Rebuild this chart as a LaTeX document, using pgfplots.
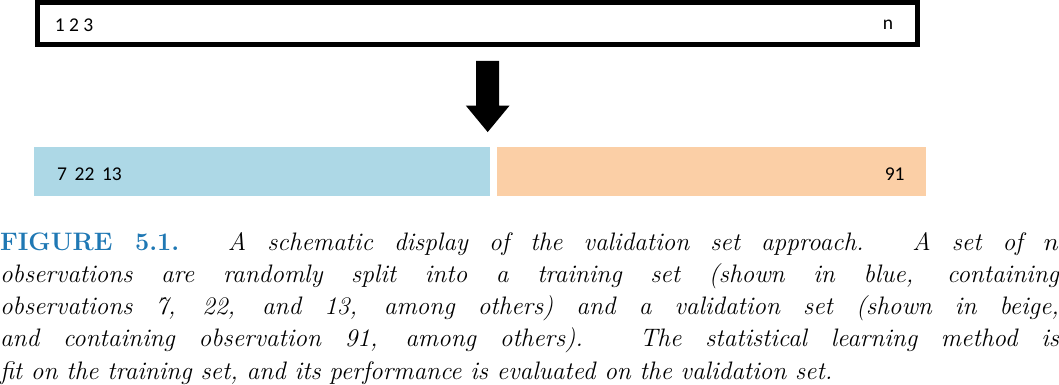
\documentclass[border=0pt]{standalone}
\usepackage{pgfplots}
\pgfplotsset{compat=1.18}
\usepackage{fontspec}
\newfontfamily\carlito{Carlito}
\definecolor{trainblue}{HTML}{ADD8E6}
\definecolor{valbeige}{HTML}{FBCFA6}
\definecolor{figblue}{HTML}{1F78B4}
\begin{document}
\begin{tikzpicture}
\begin{axis}[width=529.5pt,height=204.5pt,scale only axis,hide axis,
  xmin=0,xmax=1059,ymin=0,ymax=409,y dir=reverse,clip=false]
% training and validation sets
\addplot[fill=trainblue,draw=none] coordinates {(135,152)(532,152)(532,195)(135,195)} --cycle;
\addplot[fill=valbeige,draw=none] coordinates {(538,152)(912,152)(912,195)(538,195)} --cycle;
% full data set
\addplot[draw=black,line width=2pt] coordinates {(138,26)(904,26)(904,63)(138,63)} --cycle;
% arrow
\addplot[fill=black,draw=none] coordinates {(520,77)(540,77)(540,116)(549,116)(530,139)(511,116)(520,116)} --cycle;
\node[anchor=west,font=\carlito\fontsize{8.5}{10}\selectfont] at (axis cs:146,46) {1 2 3};
\node[anchor=east,font=\carlito\fontsize{8.5}{10}\selectfont] at (axis cs:890,46) {n};
\node[anchor=west,font=\carlito\fontsize{8.5}{10}\selectfont] at (axis cs:148,176) {7\ \,22\ \,13};
\node[anchor=east,font=\carlito\fontsize{8.5}{10}\selectfont] at (axis cs:900,176) {91};
\node[anchor=north west,inner sep=0pt,text width=461pt,align=justify,
  font=\fontsize{11}{14}\selectfont\itshape] at (axis cs:105,226)
 {{\upshape\bfseries\color{figblue}FIGURE 5.1.} A schematic display of the validation set approach. A set of $n$\linebreak
 observations are randomly split into a training set (shown in blue, containing\linebreak
 observations 7, 22, and 13, among others) and a validation set (shown in beige,\linebreak
 and containing observation 91, among others). The statistical learning method is\linebreak
 fit on the training set, and its performance is evaluated on the validation set.};
\end{axis}
\end{tikzpicture}
\end{document}
